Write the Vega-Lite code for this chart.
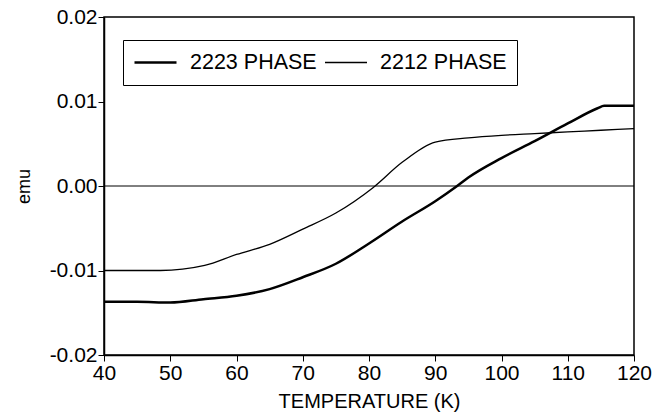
{
  "$schema": "https://vega.github.io/schema/vega-lite/v6.json",
  "width": 530,
  "height": 338,
  "autosize": "none",
  "padding": {"left": 104, "top": 17, "right": 22, "bottom": 58},
  "background": "white",
  "config": {
    "view": {"stroke": "black", "strokeWidth": 1.5},
    "font": "Liberation Sans",
    "axis": {"labelFont": "Liberation Sans", "titleFont": "Liberation Sans", "labelColor": "black", "titleColor": "black", "domainColor": "black", "tickColor": "black", "grid": false, "labelFontWeight": "normal", "titleFontWeight": "normal", "labelFlush": false, "labelBound": false}
  },
  "data": {
    "values": [
      {"T": 40, "emu": -0.0137, "phase": "2223 PHASE"},
      {"T": 45, "emu": -0.0137, "phase": "2223 PHASE"},
      {"T": 50, "emu": -0.0138, "phase": "2223 PHASE"},
      {"T": 55, "emu": -0.0134, "phase": "2223 PHASE"},
      {"T": 60, "emu": -0.0130, "phase": "2223 PHASE"},
      {"T": 65, "emu": -0.0122, "phase": "2223 PHASE"},
      {"T": 70, "emu": -0.0108, "phase": "2223 PHASE"},
      {"T": 75, "emu": -0.0092, "phase": "2223 PHASE"},
      {"T": 80, "emu": -0.0068, "phase": "2223 PHASE"},
      {"T": 85, "emu": -0.0042, "phase": "2223 PHASE"},
      {"T": 90, "emu": -0.0018, "phase": "2223 PHASE"},
      {"T": 93.3, "emu": 0.0, "phase": "2223 PHASE"},
      {"T": 95, "emu": 0.0010, "phase": "2223 PHASE"},
      {"T": 100, "emu": 0.0033, "phase": "2223 PHASE"},
      {"T": 105, "emu": 0.0053, "phase": "2223 PHASE"},
      {"T": 110, "emu": 0.0074, "phase": "2223 PHASE"},
      {"T": 114.5, "emu": 0.0092, "phase": "2223 PHASE"},
      {"T": 115.5, "emu": 0.0095, "phase": "2223 PHASE"},
      {"T": 120, "emu": 0.0095, "phase": "2223 PHASE"},
      {"T": 40, "emu": -0.0100, "phase": "2212 PHASE"},
      {"T": 45, "emu": -0.0100, "phase": "2212 PHASE"},
      {"T": 48.5, "emu": -0.0100, "phase": "2212 PHASE"},
      {"T": 55.2, "emu": -0.0094, "phase": "2212 PHASE"},
      {"T": 60, "emu": -0.0081, "phase": "2212 PHASE"},
      {"T": 65, "emu": -0.0069, "phase": "2212 PHASE"},
      {"T": 70, "emu": -0.0051, "phase": "2212 PHASE"},
      {"T": 75, "emu": -0.0032, "phase": "2212 PHASE"},
      {"T": 80.6, "emu": -0.0002, "phase": "2212 PHASE"},
      {"T": 85, "emu": 0.0028, "phase": "2212 PHASE"},
      {"T": 90, "emu": 0.0052, "phase": "2212 PHASE"},
      {"T": 95, "emu": 0.0057, "phase": "2212 PHASE"},
      {"T": 100, "emu": 0.0060, "phase": "2212 PHASE"},
      {"T": 105, "emu": 0.0062, "phase": "2212 PHASE"},
      {"T": 110, "emu": 0.0064, "phase": "2212 PHASE"},
      {"T": 115, "emu": 0.0066, "phase": "2212 PHASE"},
      {"T": 120, "emu": 0.0068, "phase": "2212 PHASE"}
    ]
  },
  "layer": [
    {
      "data": {"values": [{"z": 0}]},
      "mark": {"type": "rule", "color": "black", "strokeWidth": 1},
      "encoding": {"y": {"field": "z", "type": "quantitative", "scale": {"domain": [-0.02, 0.02]}}}
    },
    {
      "mark": {"type": "line", "interpolate": "monotone"},
      "encoding": {
        "x": {
          "field": "T", "type": "quantitative",
          "scale": {"domain": [40, 120], "nice": false, "zero": false},
          "axis": {"title": "TEMPERATURE (K)", "values": [40, 50, 60, 70, 80, 90, 100, 110, 120], "labelFontSize": 21, "titleFontSize": 20, "tickSize": 6, "labelPadding": 1, "titlePadding": 8, "domainWidth": 1.5}
        },
        "y": {
          "field": "emu", "type": "quantitative",
          "scale": {"domain": [-0.02, 0.02], "nice": false},
          "axis": {"title": "emu", "values": [-0.02, -0.01, 0, 0.01, 0.02], "labelExpr": "replace(format(datum.value, '.2f'), '\u2212', '-')", "labelFontSize": 21, "titleFontSize": 18, "tickSize": 6, "labelPadding": 1, "titlePadding": 16, "domainWidth": 1.5}
        },
        "color": {
          "field": "phase", "type": "nominal",
          "scale": {"domain": ["2223 PHASE", "2212 PHASE"], "range": ["black", "black"]},
          "legend": {
            "title": null, "orient": "none", "legendX": 19, "legendY": 23, "direction": "horizontal",
            "strokeColor": "black", "fillColor": "white", "padding": 10, "clipHeight": 25,
            "symbolType": "stroke", "symbolSize": 1764, "labelFontSize": 21.5, "labelFont": "Liberation Sans", "labelColor": "black", "labelOffset": 12, "columnPadding": 7, "symbolStrokeColor": "black",
            "labelExpr": "datum.value == '2212 PHASE' ? datum.label + '\u00a0\u00a0' : datum.label + '\u00a0'"
          }
        },
        "strokeWidth": {
          "field": "phase", "type": "nominal",
          "scale": {"domain": ["2223 PHASE", "2212 PHASE"], "range": [2.5, 1.3]},
          "legend": {
            "title": null, "orient": "none", "legendX": 19, "legendY": 23, "direction": "horizontal",
            "strokeColor": "black", "fillColor": "white", "padding": 10, "clipHeight": 25,
            "symbolType": "stroke", "symbolSize": 1764, "labelFontSize": 21.5, "labelFont": "Liberation Sans", "labelColor": "black", "labelOffset": 12, "columnPadding": 7, "symbolStrokeColor": "black",
            "labelExpr": "datum.value == '2212 PHASE' ? datum.label + '\u00a0\u00a0' : datum.label + '\u00a0'"
          }
        }
      }
    }
  ]
}
